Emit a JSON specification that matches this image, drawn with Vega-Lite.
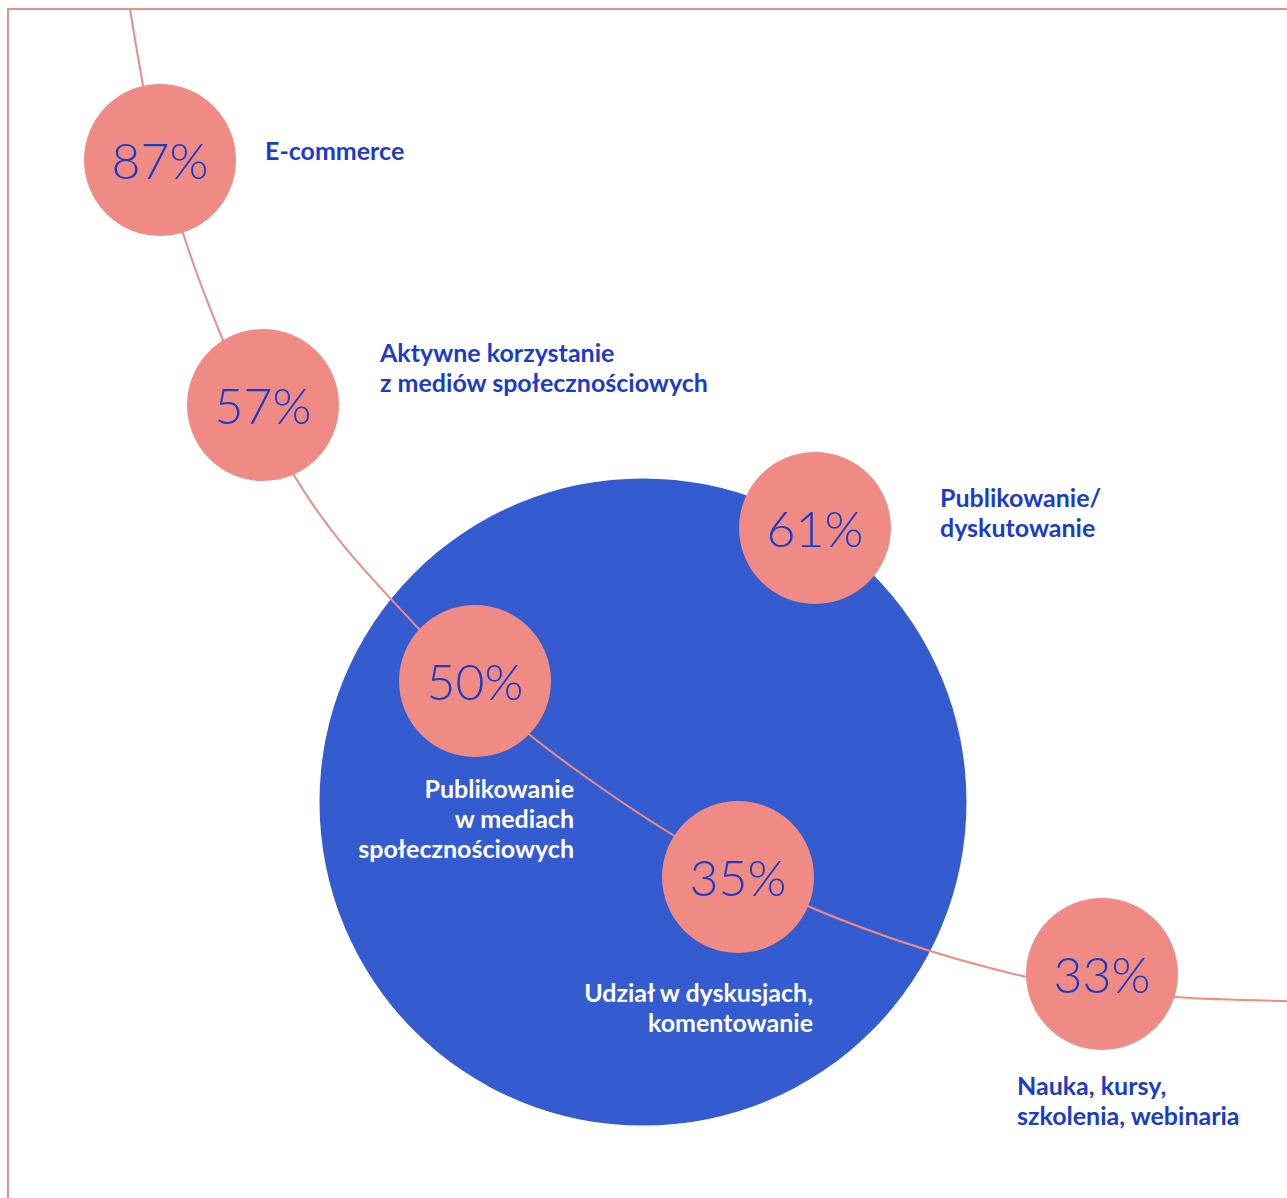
{
  "$schema": "https://vega.github.io/schema/vega-lite/v6.json",
  "width": 1287,
  "height": 1198,
  "autosize": "none",
  "padding": 0,
  "background": "white",
  "config": {"view": {"stroke": null}},
  "datasets": {
    "frame": [
      {"x": 8, "y": 1198, "o": 1},
      {"x": 8, "y": 9, "o": 2},
      {"x": 1287, "y": 9, "o": 3}
    ],
    "curve": [
      {"x": 130, "y": 9}, {"x": 143, "y": 85}, {"x": 183, "y": 233}, {"x": 220, "y": 333},
      {"x": 292, "y": 472}, {"x": 418, "y": 628}, {"x": 530, "y": 735}, {"x": 600, "y": 787},
      {"x": 673, "y": 835}, {"x": 810, "y": 907}, {"x": 860, "y": 927}, {"x": 990, "y": 968},
      {"x": 1027, "y": 977}, {"x": 1175, "y": 997}, {"x": 1287, "y": 1001}
    ],
    "big": [{"x": 643, "y": 802}],
    "bubbles": [
      {"pct": "87%", "cx": 160, "cy": 160, "lx": 265, "ly": 160, "side": "out", "label": ["E-commerce"]},
      {"pct": "57%", "cx": 263, "cy": 405, "lx": 380, "ly": 362, "side": "out", "label": ["Aktywne korzystanie", "z mediów społecznościowych"]},
      {"pct": "61%", "cx": 815, "cy": 528, "lx": 940, "ly": 507, "side": "out", "label": ["Publikowanie/", "dyskutowanie"]},
      {"pct": "50%", "cx": 475, "cy": 681, "lx": 574, "ly": 798, "side": "in", "label": ["Publikowanie", "w mediach", "społecznościowych"]},
      {"pct": "35%", "cx": 738, "cy": 877, "lx": 813, "ly": 1002, "side": "in", "label": ["Udział w dyskusjach,", "komentowanie"]},
      {"pct": "33%", "cx": 1102, "cy": 974, "lx": 1017, "ly": 1095, "side": "out", "label": ["Nauka, kursy,", "szkolenia, webinaria"]}
    ]
  },
  "layer": [
    {
      "data": {"name": "frame"},
      "mark": {"type": "line", "color": "#F08A85", "strokeWidth": 2},
      "encoding": {
        "x": {"field": "x", "type": "quantitative", "scale": {"domain": [0, 1287], "nice": false, "zero": false}, "axis": null},
        "y": {"field": "y", "type": "quantitative", "scale": {"domain": [0, 1198], "nice": false, "zero": false, "reverse": true}, "axis": null},
        "order": {"field": "o"}
      }
    },
    {
      "data": {"name": "big"},
      "mark": {"type": "point", "shape": "circle", "filled": true, "opacity": 1, "color": "#345BCF", "size": 418609, "strokeWidth": 0},
      "encoding": {
        "x": {"field": "x", "type": "quantitative"},
        "y": {"field": "y", "type": "quantitative"}
      }
    },
    {
      "data": {"name": "curve"},
      "mark": {"type": "line", "color": "#F08A85", "strokeWidth": 2, "interpolate": "monotone"},
      "encoding": {
        "x": {"field": "x", "type": "quantitative"},
        "y": {"field": "y", "type": "quantitative"}
      }
    },
    {
      "data": {"name": "bubbles"},
      "mark": {"type": "point", "shape": "circle", "filled": true, "opacity": 1, "color": "#F08A85", "size": 23104, "strokeWidth": 0},
      "encoding": {
        "x": {"field": "cx", "type": "quantitative"},
        "y": {"field": "cy", "type": "quantitative"}
      }
    },
    {
      "data": {"name": "bubbles"},
      "mark": {"type": "text", "font": "Lato", "fontWeight": 300, "fontSize": 50, "color": "#1A3CC8", "align": "center", "baseline": "alphabetic", "dy": 19},
      "encoding": {
        "x": {"field": "cx", "type": "quantitative"},
        "y": {"field": "cy", "type": "quantitative"},
        "text": {"field": "pct"}
      }
    },
    {
      "data": {"name": "bubbles"},
      "transform": [{"filter": "datum.side === 'out'"}],
      "mark": {"type": "text", "font": "Lato", "fontWeight": "bold", "fontSize": 25, "lineHeight": 30, "color": "#1A3CC8", "align": "left", "baseline": "alphabetic"},
      "encoding": {
        "x": {"field": "lx", "type": "quantitative"},
        "y": {"field": "ly", "type": "quantitative"},
        "text": {"field": "label"}
      }
    },
    {
      "data": {"name": "bubbles"},
      "transform": [{"filter": "datum.side === 'in'"}],
      "mark": {"type": "text", "font": "Lato", "fontWeight": "bold", "fontSize": 25, "lineHeight": 30, "color": "#FFFFFF", "align": "right", "baseline": "alphabetic"},
      "encoding": {
        "x": {"field": "lx", "type": "quantitative"},
        "y": {"field": "ly", "type": "quantitative"},
        "text": {"field": "label"}
      }
    }
  ]
}
